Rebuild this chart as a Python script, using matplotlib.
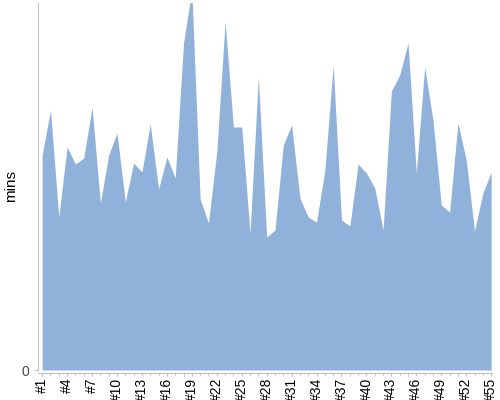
import matplotlib.pyplot as plt

plt.rcParams['font.family'] = ['Liberation Sans', 'DejaVu Sans']

# run labels and minutes
runs = ["#%d" % i for i in range(1, 56)]
mins = [21.5, 26.0, 15.3, 22.3, 20.6, 21.2, 26.3, 16.7, 21.5, 23.7,
        16.8, 20.7, 19.8, 24.6, 18.1, 21.3, 19.2, 32.7, 38.0, 17.1,
        14.7, 21.8, 34.8, 24.3, 24.3, 13.7, 29.3, 13.3, 14.0, 22.5,
        24.5, 17.2, 15.3, 14.8, 20.0, 30.5, 15.0, 14.4, 20.6, 19.7,
        18.2, 14.0, 27.9, 29.5, 32.7, 19.7, 30.3, 25.0, 16.5, 15.8,
        24.7, 21.0, 13.9, 17.7, 19.8]
y_max = 36.7

fig = plt.figure(figsize=(5, 4), dpi=100)
ax = fig.add_axes([0.076, 0.075, 0.908, 0.9175])

x = list(range(len(runs)))
ax.fill_between(x, mins, 0, color="#90b2da", linewidth=0)

ax.set_xlim(-0.5, len(runs) - 1 + 0.1)
ax.set_ylim(0, y_max)

# x axis: tick at every run, label every third
ax.set_xticks(x, minor=True)
ax.set_xticks(x[::3])
ax.set_xticklabels(runs[::3], fontsize=8)
ax.tick_params(axis="x", which="both", length=2, color="#c0c0c0", pad=1,
               labelrotation=90)

ax.set_yticks([0])
ax.tick_params(axis="y", length=3, color="#c0c0c0", labelsize=10, labelcolor="#444444")
ax.set_ylabel("mins", fontsize=11)
ax.yaxis.set_label_coords(-0.044, 0.5)

for s in ["top", "right"]:
    ax.spines[s].set_visible(False)
ax.spines["left"].set_color("#c0c0c0")
ax.spines["bottom"].set_color("#c0c0c0")
ax.spines["bottom"].set_position(("outward", 2.5))

fig.savefig("out.png")
